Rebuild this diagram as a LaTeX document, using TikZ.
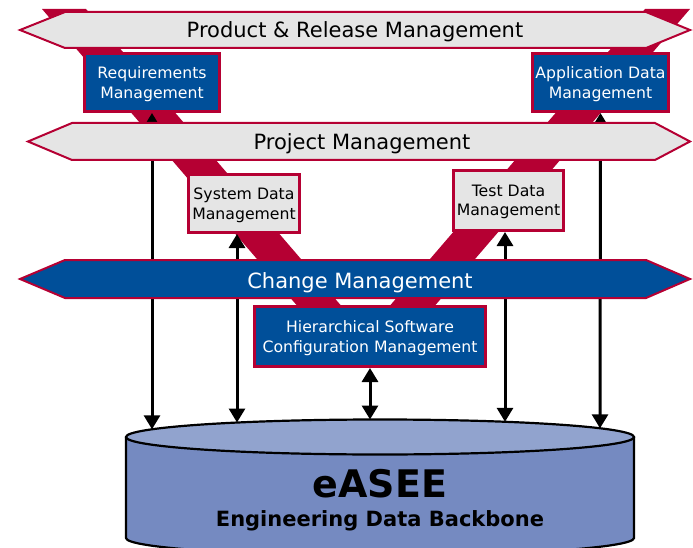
\documentclass[tikz,border=0pt]{standalone}
\usepackage{fontspec}
\setmainfont{DejaVu Sans}
\usetikzlibrary{arrows.meta,shapes.geometric}

\definecolor{easeered}{RGB}{181,0,51}
\definecolor{easeeblue}{RGB}{0,79,153}
\definecolor{easeegray}{RGB}{229,229,229}
\definecolor{disktop}{RGB}{145,163,206}
\definecolor{diskbody}{RGB}{117,138,193}

\begin{document}
\begin{tikzpicture}[x=1pt,y=-1pt,
        band/.style={fill=easeered,draw=none},
        banner/.style={draw=easeered,line width=2pt,fill=easeegray,line join=miter},
        bluebanner/.style={banner,fill=easeeblue},
        bannertext/.style={anchor=base,inner sep=0pt,font=\fontsize{21}{25}\selectfont},
        mgmt/.style={draw=easeered,line width=3pt,fill=easeegray,align=center,
            inner sep=0pt,text depth=0pt,font=\fontsize{15.7}{19.5}\selectfont},
        bluemgmt/.style={mgmt,fill=easeeblue,text=white},
        link/.style={line width=3pt,
            {Triangle[length=14pt,width=16pt]}-{Triangle[length=14pt,width=16pt]}}]
    \useasboundingbox (0,0) rectangle (693,548);

    % the red V behind everything
    \fill[band] (42,9) -- (86,9) -- (362,330) -- (318,330) -- cycle;
    \fill[band] (645,9) -- (690,9) -- (414,330) -- (369,330) -- cycle;

    % data backbone
    \draw[line width=2.2pt,fill=diskbody] (126,437) -- (126,538)
        arc[start angle=180,end angle=0,x radius=254,y radius=17.5] -- (634,437);
    \node[ellipse,draw,line width=2.2pt,fill=disktop,minimum width=508,minimum height=35] (disk) at (380,437) {};
    \node[anchor=base,inner sep=0pt,font=\fontsize{38}{40}\selectfont\bfseries] (easee) at (380,497) {eASEE};
    \node[anchor=base,inner sep=0pt,font=\fontsize{21}{25}\selectfont\bfseries] (backbone) at (380,526) {Engineering Data Backbone};

    % management boxes
    \node[bluemgmt,minimum width=135,minimum height=58] (req) at (152,82.5) {Requirements\\Management};
    \node[bluemgmt,minimum width=136,minimum height=58] (app) at (600.5,82.5) {Application Data\\Management};
    \node[mgmt,minimum width=111,minimum height=58] (sys) at (244,203.5) {System Data\\Management};
    \node[mgmt,minimum width=110,minimum height=60] (test) at (508.5,200.5) {Test Data\\Management};
    \node[bluemgmt,minimum width=231,minimum height=60] (hscm) at (370,336.5) {Hierarchical Software\\Configuration Management};

    % where the links meet the top of the disk
    \coordinate (reqend) at (152,429.3);
    \coordinate (sysend) at (237,422.5);
    \coordinate (hscmend) at (370,419.5);
    \coordinate (testend) at (505,421.8);
    \coordinate (append) at (600,428.3);

    \draw[link] (req.south) -- (reqend);
    \draw[link] (app.south) -- (append);
    \draw[link] (sys.south -| sysend) -- (sysend);
    \draw[link] (test.south -| testend) -- (testend);
    \draw[link] (hscm.south) -- (hscmend);

    % banners on top of the links
    \draw[banner] (20,30) -- (65,12) -- (646,12) -- (690,30) -- (646,48) -- (65,48) -- cycle;
    \node[bannertext] (prm) at (355,37.5) {Product \& Release Management};

    \draw[banner] (28,141.5) -- (72,123) -- (655,123) -- (690,141.5) -- (655,160) -- (72,160) -- cycle;
    \node[bannertext] (pm) at (362,150) {Project Management};

    \draw[bluebanner] (20,279) -- (65,260) -- (646,260) -- (690,279) -- (646,298) -- (65,298) -- cycle;
    \node[bannertext,text=white] (cm) at (360,288) {Change Management};
\end{tikzpicture}
\end{document}
